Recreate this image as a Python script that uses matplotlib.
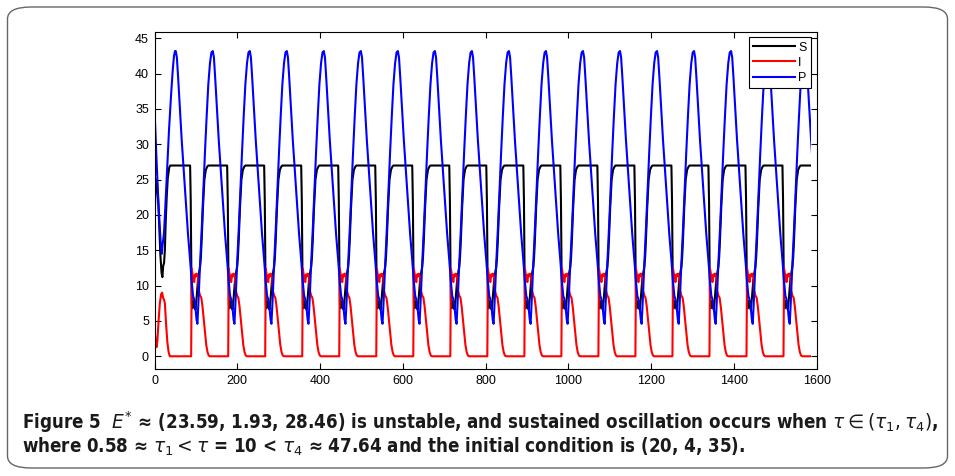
import numpy as np
import matplotlib.pyplot as plt
from matplotlib.patches import FancyBboxPatch, Rectangle

# ---------------- data ----------------
# times where S leaves its plateau (start of each oscillation cycle)
drop_times = [86.0, 175.5, 264.9, 354.4, 443.8, 533.3, 622.7, 712.2, 801.6,
              891.1, 980.5, 1070.0, 1159.4, 1248.9, 1338.3, 1427.8, 1517.2, 1606.7]
t_end = 1587

# initial transient (t from 0)
s_init_t = [0, 2, 4, 5.5, 8, 11, 14, 17, 19, 21, 23, 25, 27, 29.5, 32, 35.5, 38]
s_init_v = [20, 22.5, 24.5, 25, 23, 19, 14.5, 11.8, 11.2, 12.8, 13.2, 15, 19, 22.6, 25.2, 26.7, 27]

i_init_t = [0, 2.5, 5, 7, 10, 13, 16, 18.5, 20.5, 23, 25, 28, 31, 34, 37]
i_init_v = [4, 2.3, 1.3, 2.2, 5.2, 7.6, 8.8, 9.0, 8.3, 8.0, 7.5, 4.5, 2.0, 0.6, 0]

p_init_t = [0, 4, 8, 12, 15, 17.4, 19, 21, 23, 26, 30, 35, 40, 44, 47, 49.5]
p_init_v = [35, 29, 23.5, 19, 16, 14.5, 15.5, 16.5, 17.5, 21, 26, 32, 37, 40.5, 42.5, 43.2]

# one steady cycle, time relative to the S drop
s_cyc_t = [0, 1.5, 3, 4.2, 6, 8, 10, 13, 16, 19, 22, 24, 26, 28, 31, 34.5, 38, 42, 44]
s_cyc_v = [27, 22, 12, 7.3, 6.8, 7.8, 7.2, 6.6, 8.5, 10.8, 12.0, 12.6, 14.0, 16.5, 21, 25, 26.4, 26.9, 27]

i_cyc_t = [0, 2.5, 3.9, 6, 8, 9.7, 12, 14, 16, 19, 21, 24, 27, 30, 33, 36, 39, 42, 45, 48]
i_cyc_v = [0, 0, 12.4, 11.6, 11.3, 10.5, 11.6, 11.3, 11.7, 11.2, 9.3, 8.6, 8.3, 7.0, 5.2, 3.3, 1.6, 0.6, 0.1, 0]

p_cyc_t = [-34.7, -32, -29, -25, -20.3, -15, -10, -5, 0, 4, 7, 9, 11, 13, 15.5, 17.6,
           20, 24, 28, 32, 36, 40, 44, 48, 51.5]
p_cyc_v = [43.2, 42.3, 39.5, 35.5, 30.6, 26.0, 21.5, 17.2, 13.6, 10.5, 8.6, 8.2, 7.8, 6.8, 5.2, 4.6,
           7.5, 13, 18, 23.5, 29, 34, 38.5, 41.5, 43]


def series(init_t, init_v, cyc_t, cyc_v):
    t = list(init_t)
    v = list(init_v)
    for d in drop_times:
        t += [d + x for x in cyc_t]
        v += list(cyc_v)
    return np.array(t), np.array(v)


ts, S = series(s_init_t, s_init_v, s_cyc_t, s_cyc_v)
ti, I = series(i_init_t, i_init_v, i_cyc_t, i_cyc_v)
tp, P = series(p_init_t, p_init_v, p_cyc_t, p_cyc_v)

# ---------------- figure ----------------
plt.rcParams['font.family'] = ['Liberation Sans', 'DejaVu Sans']

fig = plt.figure(figsize=(9.55, 4.76), dpi=100)
ax = fig.add_axes([0.1618, 0.2248, 0.6934, 0.708])

lines = []
lines += ax.plot(ts, S, color='k', lw=1.5, label='S')
lines += ax.plot(ti, I, color='r', lw=1.5, label='I')
lines += ax.plot(tp, P, color='b', lw=1.5, label='P')
for ln in lines:
    ln.set_clip_path(Rectangle((0, -5), t_end, 60, transform=ax.transData))

ax.set_xlim(0, 1600)
ax.set_ylim(-1.8, 45.9)
ax.set_xticks(np.arange(0, 1601, 200))
ax.set_yticks(np.arange(0, 46, 5))
ax.tick_params(direction='in', top=True, right=True, length=4, width=0.8,
               labelsize=9, pad=4)
for sp in ax.spines.values():
    sp.set_linewidth(0.8)

leg = ax.legend(loc='upper right', bbox_to_anchor=(811 / 955, 1 - 37.3 / 476),
                bbox_transform=fig.transFigure, borderaxespad=0, fancybox=False,
                edgecolor='k', framealpha=1, fontsize=9, handlelength=3.3,
                handletextpad=0.3, labelspacing=0.25, borderpad=0.35)
leg.get_frame().set_linewidth(0.8)

# rounded frame around the figure
frame = FancyBboxPatch((7.5 / 955, 8 / 476), 940 / 955, 461 / 476,
                       boxstyle='round,pad=0,rounding_size=0.025',
                       transform=fig.transFigure, fill=False,
                       edgecolor='#666666', lw=1.0, clip_on=False)
fig.patches.append(frame)

line1 = (r"Figure 5  $E^{*}$ ≈ (23.59, 1.93, 28.46) is unstable, and sustained oscillation "
         r"occurs when $\tau \in (\tau_1, \tau_4)$,")
line2 = (r"where 0.58 ≈ $\tau_1 < \tau$ = 10 < $\tau_4$ ≈ 47.64 and the initial condition "
         r"is (20, 4, 35).")
cap1 = fig.text(22 / 955, 1 - 422 / 476, line1, family='DejaVu Sans', fontstretch='condensed',
                fontweight='bold', fontsize=13, color='#1a1a1a', va='center', ha='left')
cap2 = fig.text(22 / 955, 1 - 447 / 476, line2, family='DejaVu Sans', fontstretch='condensed',
                fontweight='bold', fontsize=13, color='#1a1a1a', va='center', ha='left')

# shrink the caption so the first line spans the same width as in the figure
fig.canvas.draw()
w1 = cap1.get_window_extent(fig.canvas.get_renderer()).width
fs = 13 * 914 / w1
cap1.set_fontsize(fs)
cap2.set_fontsize(fs)

fig.savefig('out.png', dpi=100)
